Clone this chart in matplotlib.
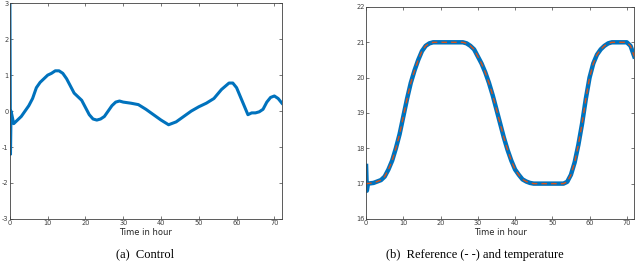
import matplotlib
matplotlib.use("Agg")
import matplotlib.pyplot as plt
import numpy as np

plt.rcParams["axes.unicode_minus"] = False

# (a) control signal
ctrl_t = [0, 0.15, 0.3, 0.5, 1, 2, 3, 4, 5, 6, 7, 8, 9, 10, 11, 12, 13, 14, 15, 16,
          17, 18, 19, 20, 21, 22, 23, 24, 25, 26, 27, 28, 29, 30, 32, 34, 36, 38,
          40, 42, 44, 46, 48, 50, 52, 54, 56, 58, 59, 60, 61, 62, 63, 64, 65, 66,
          67, 68, 69, 70, 71, 72]
ctrl_u = [3.0, -1.2, 0.0, -0.1, -0.35, -0.25, -0.15, 0.0, 0.15, 0.35, 0.65, 0.8,
          0.9, 1.0, 1.05, 1.12, 1.12, 1.05, 0.9, 0.7, 0.5, 0.4, 0.3, 0.1, -0.1,
          -0.22, -0.25, -0.22, -0.15, 0.0, 0.15, 0.25, 0.28, 0.25, 0.22, 0.18, 0.05,
          -0.1, -0.25, -0.38, -0.3, -0.15, 0.0, 0.12, 0.22, 0.35, 0.6, 0.78, 0.78,
          0.65, 0.4, 0.15, -0.1, -0.05, -0.05, -0.02, 0.05, 0.25, 0.38, 0.42, 0.35,
          0.22]

# (b) reference and measured temperature
ref_t = [0, 2, 4, 5, 6, 7, 8, 9, 10, 11, 12, 13, 14, 15, 16, 17, 18, 20, 22, 24,
         26, 27, 28, 29, 30, 31, 32, 33, 34, 35, 36, 37, 38, 39, 40, 41, 42, 43, 44,
         45, 47, 49, 51, 53, 54, 55, 56, 57, 58, 59, 60, 61, 62, 63, 64, 65, 66, 68,
         70, 71, 72]
ref_T = [17.0, 17.02, 17.1, 17.2, 17.4, 17.65, 18.0, 18.4, 18.9, 19.4, 19.85, 20.2,
         20.5, 20.75, 20.9, 20.97, 21.0, 21.0, 21.0, 21.0, 21.0, 20.97, 20.9, 20.8,
         20.6, 20.4, 20.15, 19.85, 19.5, 19.1, 18.7, 18.3, 17.95, 17.65, 17.4, 17.25,
         17.12, 17.06, 17.02, 17.0, 17.0, 17.0, 17.0, 17.0, 17.05, 17.25, 17.6, 18.1,
         18.7, 19.4, 20.0, 20.4, 20.65, 20.8, 20.9, 20.97, 21.0, 21.0, 21.0, 20.9,
         20.6]
temp_t = [0, 0.2, 0.5] + ref_t[1:]
temp_T = [17.5, 16.8, 17.0] + ref_T[1:]

blue = "#0072BD"
orange = "#D95319"


def style(ax, ylim, yticks):
    ax.set_xlim(0, 72)
    ax.set_ylim(*ylim)
    ax.set_xticks(range(0, 71, 10))
    ax.set_yticks(yticks)
    ax.tick_params(direction="in", length=2.5, width=0.5, labelsize=4.8,
                   top=True, right=True, pad=1, colors="#404040")
    for s in ax.spines.values():
        s.set_linewidth(0.6)
        s.set_color("#404040")
    ax.set_xlabel("Time in hour", fontsize=6, labelpad=1, color="#262626")


fig = plt.figure(figsize=(6.4, 2.68), dpi=100)
ax1 = fig.add_axes([0.0155, 0.183, 0.425, 0.805])
ax2 = fig.add_axes([0.572, 0.183, 0.419, 0.791])

ax1.plot(ctrl_t, ctrl_u, color=blue, lw=2.2, solid_joinstyle="round")
style(ax1, (-3, 3), range(-3, 4))

ax2.plot(temp_t, temp_T, color=blue, lw=3.2, solid_joinstyle="round")
ax2.plot(ref_t, ref_T, color=orange, lw=1.0, ls=(0, (4, 3)))
style(ax2, (16, 22), range(16, 23))

fig.text(0.227, 0.05, "(a)  Control", ha="center", va="center",
         family="Liberation Serif", fontsize=9)
fig.text(0.742, 0.05, "(b)  Reference (- -) and temperature", ha="center",
         va="center", family="Liberation Serif", fontsize=9)

fig.savefig("out.png", dpi=100)
plt.close(fig)
